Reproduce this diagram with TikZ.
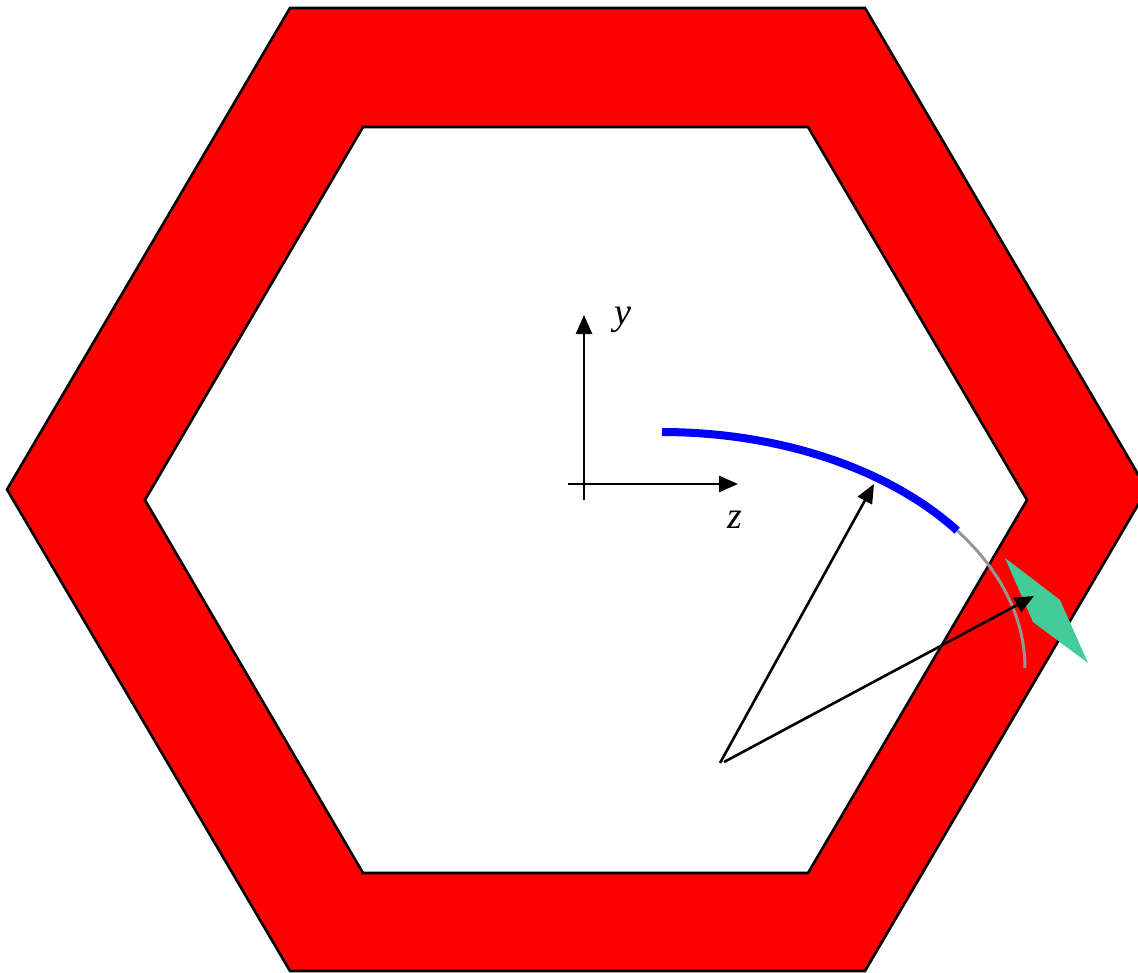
\documentclass[tikz,border=0pt]{standalone}
\usepackage{fontspec}
\setmainfont{Liberation Serif}
\usetikzlibrary{arrows.meta}
\definecolor{kitegreen}{RGB}{67,204,153}
\definecolor{arcgray}{RGB}{150,150,150}
\tikzset{
  ring/.style={fill=red, draw=black, line width=2.6pt, even odd rule, line join=miter},
  vec/.style={draw=black, line width=2.6pt, -{Triangle[length=19pt,width=16pt]}},
  lbl/.style={font=\fontsize{38}{44}\selectfont\itshape, inner sep=0pt},
}
\begin{document}
\begin{tikzpicture}[x=1pt,y=-1pt]
\useasboundingbox (0,0) rectangle (1138,972);
\clip (0,0) rectangle (1138,972);
% outer hexagon
\coordinate (O1) at (290,8);
\coordinate (O2) at (865,8);
\coordinate (O3) at (1147,489.5);
\coordinate (O4) at (865,971);
\coordinate (O5) at (290,971);
\coordinate (O6) at (7,489.5);
% inner hexagon
\coordinate (I1) at (363,127);
\coordinate (I2) at (808,127);
\coordinate (I3) at (1027,500);
\coordinate (I4) at (808,873);
\coordinate (I5) at (363,873);
\coordinate (I6) at (145,500);
\path[ring] (O1)--(O2)--(O3)--(O4)--(O5)--(O6)--cycle
            (I1)--(I2)--(I3)--(I4)--(I5)--(I6)--cycle;
% green kite
\coordinate (K1) at (1005,558);
\coordinate (K2) at (1060,600);
\coordinate (K3) at (1088,663);
\coordinate (K4) at (1033,622);
\fill[kitegreen] (K1)--(K2)--(K3)--(K4)--cycle;
% gray continuation arc
\draw[arcgray, line width=3pt]
  plot[domain=54.4:90, samples=40] ({662+363*sin(\x)},{432+236*(1-cos(\x))});
% blue arc
\draw[blue, line width=8pt]
  plot[domain=0:54.4, samples=60] ({662+363*sin(\x)},{432+236*(1-cos(\x))});
% axes
\coordinate (Ybot) at (584,500);
\coordinate (Ytop) at (584,315);
\coordinate (Zl) at (568,484);
\coordinate (Zr) at (738,484);
\draw[vec] (Ybot) -- (Ytop);
\draw[vec] (Zl) -- (Zr);
\node[lbl] (ylab) at (623,320) {y};
\node[lbl] (zlab) at (735,520) {z};
% vectors
\coordinate (P1) at (720,763);
\coordinate (T1) at (874,484);
\coordinate (P2) at (724,762);
\coordinate (T2) at (1034,596);
\draw[vec] (P1) -- (T1);
\draw[vec] (P2) -- (T2);
\end{tikzpicture}
\end{document}
